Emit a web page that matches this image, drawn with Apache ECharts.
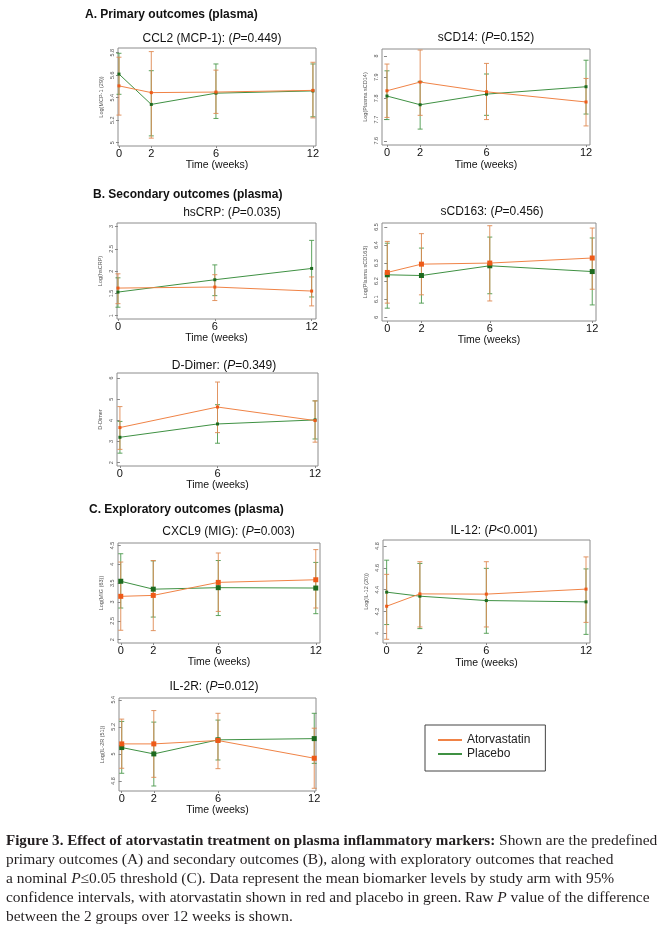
<!DOCTYPE html>
<html><head><meta charset="utf-8">
<script src="https://cdn.jsdelivr.net/npm/echarts@6/dist/echarts.min.js"></script>
<style>html,body{margin:0;padding:0;background:#fff}#c{width:662px;height:926px}</style>
</head><body><div id="c"></div>
<script>
// ---------- DATA ----------
const weeks4 = [0, 2, 6, 12];
const weeks3 = [0, 6, 12];

// A. CCL2 (MCP-1)
const ccl2Ticks = [5, 5.2, 5.4, 5.6, 5.8];
const ccl2Ator = [5.505, 5.445, 5.45, 5.465];
const ccl2AtorLo = [5.245, 5.04, 5.26, 5.22];
const ccl2AtorHi = [5.76, 5.81, 5.645, 5.715];
const ccl2Plac = [5.61, 5.34, 5.44, 5.46];
const ccl2PlacLo = [5.43, 5.06, 5.215, 5.23];
const ccl2PlacHi = [5.795, 5.64, 5.70, 5.70];

// A. sCD14
const scd14Ticks = [7.6, 7.7, 7.8, 7.9, 8];
const scd14Ator = [7.836, 7.877, 7.831, 7.783];
const scd14AtorLo = [7.71, 7.72, 7.70, 7.67];
const scd14AtorHi = [7.962, 8.028, 7.965, 7.894];
const scd14Plac = [7.811, 7.770, 7.820, 7.855];
const scd14PlacLo = [7.70, 7.655, 7.72, 7.726];
const scd14PlacHi = [7.93, 7.88, 7.915, 7.98];

// B. hsCRP
const crpTicks = [1, 1.5, 2, 2.5, 3];
const crpAtor = [1.62, 1.643, 1.553];
const crpAtorLo = [1.27, 1.34, 1.22];
const crpAtorHi = [1.94, 1.92, 1.87];
const crpPlac = [1.53, 1.807, 2.06];
const crpPlacLo = [1.19, 1.45, 1.42];
const crpPlacHi = [1.85, 2.14, 2.69];

// B. sCD163
const scd163Ticks = [6, 6.1, 6.2, 6.3, 6.4, 6.5];
const scd163Ator = [6.248, 6.294, 6.30, 6.328];
const scd163AtorLo = [6.078, 6.124, 6.09, 6.155];
const scd163AtorHi = [6.42, 6.463, 6.507, 6.494];
const scd163Plac = [6.235, 6.231, 6.285, 6.253];
const scd163PlacLo = [6.05, 6.078, 6.13, 6.068];
const scd163PlacHi = [6.41, 6.383, 6.444, 6.439];

// B. D-Dimer
const ddTicks = [2, 3, 4, 5, 6];
const ddAtor = [3.66, 4.63, 3.99];
const ddAtorLo = [2.63, 3.42, 2.97];
const ddAtorHi = [4.65, 5.81, 4.92];
const ddPlac = [3.20, 3.83, 4.02];
const ddPlacLo = [2.45, 2.92, 3.12];
const ddPlacHi = [3.95, 4.74, 4.92];

// C. CXCL9 (MIG)
const cxcl9Ticks = [2, 2.5, 3, 3.5, 4, 4.5];
const cxcl9Ator = [3.15, 3.175, 3.52, 3.59];
const cxcl9AtorLo = [2.25, 2.24, 2.75, 2.84];
const cxcl9AtorHi = [4.06, 4.10, 4.30, 4.39];
const cxcl9Plac = [3.55, 3.34, 3.38, 3.37];
const cxcl9PlacLo = [2.84, 2.60, 2.64, 2.69];
const cxcl9PlacHi = [4.28, 4.09, 4.10, 4.05];

// C. IL-12
const il12Ticks = [4, 4.2, 4.4, 4.6, 4.8];
const il12Ator = [4.248, 4.361, 4.359, 4.405];
const il12AtorLo = [3.945, 4.058, 4.058, 4.10];
const il12AtorHi = [4.54, 4.656, 4.656, 4.70];
const il12Plac = [4.377, 4.34, 4.30, 4.288];
const il12PlacLo = [4.08, 4.043, 4.0, 3.99];
const il12PlacHi = [4.67, 4.64, 4.595, 4.59];

// C. IL-2R
const il2rTicks = [4.8, 5, 5.2, 5.4];
const il2rAtor = [5.074, 5.074, 5.099, 4.968];
const il2rAtorLo = [4.894, 4.827, 4.891, 4.746];
const il2rAtorHi = [5.257, 5.32, 5.30, 5.19];
const il2rPlac = [5.047, 5.0, 5.104, 5.113];
const il2rPlacLo = [4.857, 4.763, 4.955, 4.93];
const il2rPlacHi = [5.24, 5.235, 5.25, 5.30];

const seriesNames = ['Atorvastatin', 'Placebo'];
const sectionTitles = ['A. Primary outcomes (plasma)', 'B. Secondary outcomes (plasma)', 'C. Exploratory outcomes (plasma)'];
const xAxisTitle = 'Time (weeks)';
const captionLines = [
  '{b|Figure 3. Effect of atorvastatin treatment on plasma inflammatory markers:} Shown are the predefined',
  'primary outcomes (A) and secondary outcomes (B), along with exploratory outcomes that reached',
  'a nominal {i|P}≤0.05 threshold (C). Data represent the mean biomarker levels by study arm with 95%',
  'confidence intervals, with atorvastatin shown in red and placebo in green. Raw {i|P} value of the difference',
  'between the 2 groups over 12 weeks is shown.'
];

const panels = [
  {title: 'CCL2 (MCP-1): ({i|P}=0.449)', yName: 'Log(MCP-1 (29))', weeks: weeks4, ticks: ccl2Ticks,
   ator: ccl2Ator, atorLo: ccl2AtorLo, atorHi: ccl2AtorHi, plac: ccl2Plac, placLo: ccl2PlacLo, placHi: ccl2PlacHi},
  {title: 'sCD14: ({i|P}=0.152)', yName: 'Log(Plasma sCD14)', weeks: weeks4, ticks: scd14Ticks,
   ator: scd14Ator, atorLo: scd14AtorLo, atorHi: scd14AtorHi, plac: scd14Plac, placLo: scd14PlacLo, placHi: scd14PlacHi},
  {title: 'hsCRP: ({i|P}=0.035)', yName: 'Log(hsCRP)', weeks: weeks3, ticks: crpTicks,
   ator: crpAtor, atorLo: crpAtorLo, atorHi: crpAtorHi, plac: crpPlac, placLo: crpPlacLo, placHi: crpPlacHi},
  {title: 'sCD163: ({i|P}=0.456)', yName: 'Log(Plasma sCD163)', weeks: weeks4, ticks: scd163Ticks,
   ator: scd163Ator, atorLo: scd163AtorLo, atorHi: scd163AtorHi, plac: scd163Plac, placLo: scd163PlacLo, placHi: scd163PlacHi},
  {title: 'D-Dimer: ({i|P}=0.349)', yName: 'D-Dimer', weeks: weeks3, ticks: ddTicks,
   ator: ddAtor, atorLo: ddAtorLo, atorHi: ddAtorHi, plac: ddPlac, placLo: ddPlacLo, placHi: ddPlacHi},
  {title: 'CXCL9 (MIG): ({i|P}=0.003)', yName: 'Log(MIG (63))', weeks: weeks4, ticks: cxcl9Ticks,
   ator: cxcl9Ator, atorLo: cxcl9AtorLo, atorHi: cxcl9AtorHi, plac: cxcl9Plac, placLo: cxcl9PlacLo, placHi: cxcl9PlacHi},
  {title: 'IL-12: ({i|P}<0.001)', yName: 'Log(IL-12 (20))', weeks: weeks4, ticks: il12Ticks,
   ator: il12Ator, atorLo: il12AtorLo, atorHi: il12AtorHi, plac: il12Plac, placLo: il12PlacLo, placHi: il12PlacHi},
  {title: 'IL-2R: ({i|P}=0.012)', yName: 'Log(IL-2R (51))', weeks: weeks4, ticks: il2rTicks,
   ator: il2rAtor, atorLo: il2rAtorLo, atorHi: il2rAtorHi, plac: il2rPlac, placLo: il2rPlacLo, placHi: il2rPlacHi}
];

// ---------- LAYOUT ----------
const layouts = [
  {left: 118, top: 48, width: 198, height: 98, xMin: -0.06, xMax: 12.19, yMin: 4.97, yMax: 5.842, tx: 212, ty: 39, gap: 14, sym: 3},
  {left: 382, top: 49, width: 208, height: 96, xMin: -0.30, xMax: 12.24, yMin: 7.58, yMax: 8.033, tx: 486, ty: 38, gap: 15, sym: 3},
  {left: 117, top: 223, width: 199, height: 96, xMin: -0.06, xMax: 12.27, yMin: 0.926, yMax: 3.08, tx: 232, ty: 212.5, gap: 12, sym: 3},
  {left: 382, top: 223, width: 214, height: 98, xMin: -0.31, xMax: 12.22, yMin: 5.979, yMax: 6.522, tx: 492, ty: 212, gap: 11, sym: 5},
  {left: 117, top: 373, width: 201, height: 93, xMin: -0.18, xMax: 12.18, yMin: 1.844, yMax: 6.237, tx: 224, ty: 366, gap: 12, sym: 3},
  {left: 118, top: 543, width: 202, height: 100, xMin: -0.17, xMax: 12.26, yMin: 1.912, yMax: 4.565, tx: 228.5, ty: 531.5, gap: 14, sym: 5},
  {left: 383, top: 540, width: 207, height: 103, xMin: -0.22, xMax: 12.24, yMin: 3.911, yMax: 4.855, tx: 494, ty: 531, gap: 15, sym: 3},
  {left: 119, top: 698, width: 197, height: 93, xMin: -0.17, xMax: 12.11, yMin: 4.726, yMax: 5.413, tx: 214, ty: 686.5, gap: 10, sym: 5}
];
const sectionPos = [[85, 15], [93, 195], [89, 510]];

const SANS = '"Liberation Sans", Arial, sans-serif';
const SERIF = '"Liberation Serif", "Times New Roman", serif';
const ORANGE_LINE = '#f08346', ORANGE_MARK = '#ee5a18', ORANGE_BAR = '#df8a52';
const GREEN_LINE = '#3f9143', GREEN_MARK = '#1d6a1f', GREEN_BAR = '#4c9a4e';
const CAP_SIZE = 15.45, CAP_BOLD = 15.05, CAP_LH = 18.9;

function errRender(color) {
  return function (params, api) {
    const x = api.value(0), lo = api.value(1), hi = api.value(2);
    const a = api.coord([x, lo]), b = api.coord([x, hi]);
    const w = 2.5;
    const st = {stroke: color, lineWidth: 1, opacity: 0.9};
    return {type: 'group', children: [
      {type: 'line', shape: {x1: a[0], y1: a[1], x2: b[0], y2: b[1]}, style: st},
      {type: 'line', shape: {x1: a[0] - w, y1: a[1], x2: a[0] + w, y2: a[1]}, style: st},
      {type: 'line', shape: {x1: b[0] - w, y1: b[1], x2: b[0] + w, y2: b[1]}, style: st}
    ]};
  };
}

const grid = [], xAxis = [], yAxis = [], series = [], graphic = [];
panels.forEach((p, i) => {
  const L = layouts[i];
  grid.push({left: L.left, top: L.top, width: L.width, height: L.height, show: true,
    borderColor: '#8c8c8c', borderWidth: 1, backgroundColor: '#fff'});
  xAxis.push({type: 'value', gridIndex: i, min: L.xMin, max: L.xMax,
    axisLine: {show: false}, splitLine: {show: false},
    axisTick: {show: true, length: 2, customValues: p.weeks, lineStyle: {color: '#888'}},
    axisLabel: {customValues: p.weeks, fontSize: 11, color: '#111', margin: 2, fontFamily: SANS},
    name: xAxisTitle, nameLocation: 'middle', nameGap: L.gap,
    nameTextStyle: {fontSize: 10.5, color: '#111', fontFamily: SANS}});
  yAxis.push({type: 'value', gridIndex: i, min: L.yMin, max: L.yMax,
    axisLine: {show: false}, splitLine: {show: false},
    axisTick: {show: true, length: 3, customValues: p.ticks, lineStyle: {color: '#888'}},
    axisLabel: {customValues: p.ticks, rotate: 90, fontSize: 5.5, color: '#555', margin: 3, fontFamily: SANS},
    name: p.yName, nameLocation: 'middle', nameGap: 14, nameRotate: 90,
    nameTextStyle: {fontSize: 5.5, color: '#555', fontFamily: SANS}});
  const mk = (m, lo, hi) => p.weeks.map((w, j) => [w, lo[j], hi[j]]);
  series.push({type: 'custom', name: seriesNames[1], xAxisIndex: i, yAxisIndex: i, renderItem: errRender(GREEN_BAR),
    data: mk(p.plac, p.placLo, p.placHi), encode: {x: 0, y: [1, 2]}, z: 2, silent: true});
  series.push({type: 'custom', name: seriesNames[0], xAxisIndex: i, yAxisIndex: i, renderItem: errRender(ORANGE_BAR),
    data: mk(p.ator, p.atorLo, p.atorHi), encode: {x: 0, y: [1, 2]}, z: 3, silent: true});
  series.push({type: 'line', name: seriesNames[1], xAxisIndex: i, yAxisIndex: i,
    data: p.weeks.map((w, j) => [w, p.plac[j]]), symbol: 'rect', symbolSize: L.sym,
    itemStyle: {color: GREEN_MARK}, lineStyle: {color: GREEN_LINE, width: 1}, z: 4});
  series.push({type: 'line', name: seriesNames[0], xAxisIndex: i, yAxisIndex: i,
    data: p.weeks.map((w, j) => [w, p.ator[j]]), symbol: 'rect', symbolSize: L.sym,
    itemStyle: {color: ORANGE_MARK}, lineStyle: {color: ORANGE_LINE, width: 1}, z: 5});
  graphic.push({type: 'text', x: L.tx, y: L.ty, style: {text: p.title, align: 'center', verticalAlign: 'middle',
    fontSize: 12, fontFamily: SANS, fill: '#111',
    rich: {i: {fontStyle: 'italic', fontSize: 12, fontFamily: SANS, fill: '#111'}}}});
});
sectionTitles.forEach((t, k) => {
  graphic.push({type: 'text', x: sectionPos[k][0], y: sectionPos[k][1], style: {text: t, align: 'left',
    verticalAlign: 'middle', fontSize: 12, fontWeight: 'bold', fontFamily: SANS, fill: '#111'}});
});
graphic.push({type: 'text', x: 6, y: 831.5, style: {text: captionLines.join('\n'), align: 'left', verticalAlign: 'top',
  fontSize: CAP_SIZE, lineHeight: CAP_LH, fontFamily: SERIF, fill: '#231f20',
  rich: {
    b: {fontWeight: 'bold', fontSize: CAP_BOLD, lineHeight: CAP_LH, fontFamily: SERIF, fill: '#231f20'},
    i: {fontStyle: 'italic', fontSize: CAP_SIZE, lineHeight: CAP_LH, fontFamily: SERIF, fill: '#231f20'}
  }}});

const chart = echarts.init(document.getElementById('c'), null, {renderer: 'canvas'});
chart.setOption({
  animation: false,
  backgroundColor: '#fff',
  grid, xAxis, yAxis, series, graphic,
  legend: {left: 425, top: 725, orient: 'vertical', selectedMode: false,
    data: [
      {name: seriesNames[0], icon: 'rect', itemStyle: {color: ORANGE_LINE}},
      {name: seriesNames[1], icon: 'rect', itemStyle: {color: GREEN_LINE}}
    ],
    itemWidth: 24, itemHeight: 2, itemGap: 2,
    borderColor: '#444', borderWidth: 1, padding: [9, 15, 11, 13],
    textStyle: {fontSize: 12, color: '#222', fontFamily: SANS}}
});
</script></body></html>
